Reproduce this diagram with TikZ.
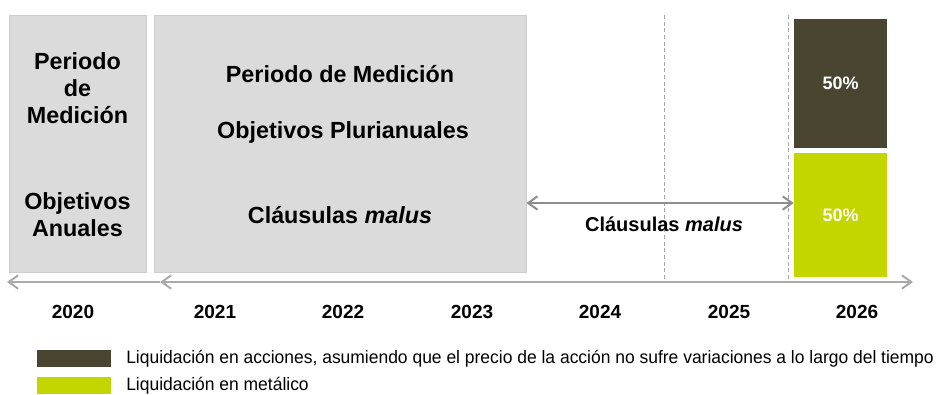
\documentclass[tikz,border=0pt]{standalone}
\usepackage{fontspec}
\setmainfont{Liberation Sans}
\newfontfamily\narrowfont[FakeStretch=0.97]{Liberation Sans}
\usetikzlibrary{arrows.meta,positioning}
\definecolor{boxgray}{HTML}{DBDBDB}
\definecolor{boxedge}{HTML}{CDCDCD}
\definecolor{axisgray}{HTML}{AAAAAA}
\definecolor{arrgray}{HTML}{8E8E8E}
\definecolor{shares}{HTML}{4A4530}
\definecolor{cash}{HTML}{C4D600}
\tikzset{barb/.style={-{Straight Barb[length=7pt, width=10pt]}},
  period/.style={fill=boxgray, draw=boxedge, line width=0.6pt, inner sep=0pt},
  part/.style={inner sep=0pt, text=white, font=\bfseries\fontsize{13.5}{16}\selectfont},
  big/.style={font=\bfseries\fontsize{17.5}{20.25}\selectfont, align=center},
  yr/.style={font=\bfseries\fontsize{14.25}{16}\selectfont},
  legtxt/.style={font=\narrowfont\fontsize{13.5}{15}\selectfont, anchor=west, inner sep=0pt}}

\begin{document}
\begin{tikzpicture}[x=0.75pt, y=-0.75pt]
  \useasboundingbox (0,0) rectangle (944,394);
  % measurement periods
  \node[period, minimum width=102.75pt, minimum height=192.75pt] (annual) at (77.5,143.5) {};
  \node[period, minimum width=279pt, minimum height=192.75pt] (multi) at (340,143.5) {};
  \node[big] (annualtop) at (77.5,88) {Periodo\\de\\Medición};
  \node[big] (annualobj) at (77.5,215) {Objetivos\\Anuales};
  \node[big] (multimed) at (340,74) {Periodo de Medición};
  \node[big] (multiobj) at (343,132) {Objetivos Plurianuales};
  \node[big] (multimalus) at (340,215) {Cláusulas \textit{malus}};
  % year separators
  \draw[gray!70, densely dashed, line width=0.5pt] (664,15) -- (664,282);
  \draw[gray!70, densely dashed, line width=0.5pt] (788,15) -- (788,282);
  % settlement 2026
  \node[part, fill=shares, minimum width=69.75pt, minimum height=96.75pt] (stock) at (840.5,83.5) {50\%};
  \node[part, fill=cash, minimum width=69.75pt, minimum height=93pt] (money) at (840.5,215) {50\%};
  % malus after the period
  \coordinate (malusrow) at (0,203);
  \draw[arrgray, line width=1.5pt, {Straight Barb[length=7pt, width=10pt]}-{Straight Barb[length=7pt, width=10pt]}]
    (multi.east |- malusrow) -- (money.west |- malusrow);
  \node[font=\bfseries\fontsize{15}{18}\selectfont] (malus) at (664,224) {Cláusulas \textit{malus}};
  % time axis
  \coordinate (tl) at (7,282);
  \coordinate (tm) at (160,282);
  \coordinate (tr) at (913,282);
  \draw[axisgray, line width=1.5pt, barb] (tm) -- (tl);
  \draw[axisgray, line width=1.5pt, {Straight Barb[length=7pt, width=10pt]}-{Straight Barb[length=7pt, width=10pt]}] (tm) -- (tr);
  \foreach \yr/\x in {2020/73,2021/215,2022/343,2023/472,2024/600,2025/729,2026/857}
    \node[yr] (y\yr) at (\x,312) {\yr};
  % legend
  \node[fill=shares, minimum width=55.5pt, minimum height=12.75pt, inner sep=0pt] (keystock) at (74,358.5) {};
  \node[fill=cash, minimum width=55.5pt, minimum height=12.75pt, inner sep=0pt] (keycash) at (74,385.5) {};
  \node[legtxt] (txtstock) at (126,359) {Liquidación en acciones, asumiendo que el precio de la acción no sufre variaciones a lo largo del tiempo};
  \node[legtxt] (txtcash) at (126,386) {Liquidación en metálico};
\end{tikzpicture}
\end{document}
